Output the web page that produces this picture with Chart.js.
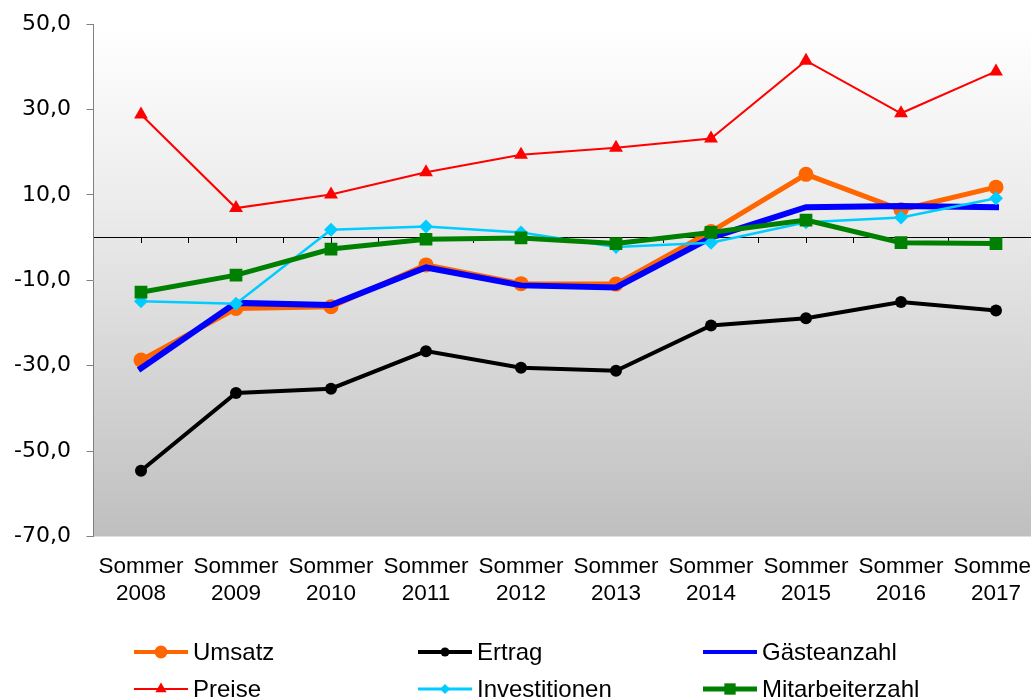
<!DOCTYPE html>
<html>
<head>
<meta charset="utf-8">
<script src="https://cdn.jsdelivr.net/npm/chart.js@4/dist/chart.umd.min.js"></script>
<style>
  html, body { margin: 0; padding: 0; background: #ffffff; overflow: hidden; }
  #wrap { position: relative; width: 1031px; height: 699px; overflow: hidden; }
  #wrap canvas { position: absolute; left: 0; top: 0; }
</style>
</head>
<body>
<div id="wrap"><canvas id="chart" width="1060" height="699"></canvas></div>
<script>
// Saison-Vergleich: Salden in Prozentpunkten, Sommer 2008 bis 2017
const years = ['2008', '2009', '2010', '2011', '2012', '2013', '2014', '2015', '2016', '2017'];
const categories = years.map(y => ['Sommer', y]);

const umsatz          = [-28.7, -16.6, -16.2, -6.4, -10.8, -10.9, 1.4, 14.8, 6.5, 11.8];
const ertrag          = [-54.6, -36.4, -35.4, -26.6, -30.5, -31.2, -20.6, -18.9, -15.1, -17.1];
const gaesteanzahl    = [-30.6, -15.3, -15.8, -7.0, -11.2, -11.7, 0.0, 7.1, 7.4, 7.1];
const preise          = [28.8, 6.9, 10.1, 15.3, 19.4, 21.0, 23.2, 41.4, 29.1, 38.9];
const investitionen   = [-14.9, -15.5, 1.8, 2.6, 1.2, -2.2, -1.2, 3.6, 4.7, 9.2];
const mitarbeiterzahl = [-12.8, -8.8, -2.7, -0.4, -0.1, -1.4, 1.2, 4.1, -1.2, -1.4];

const yTickValues = [-70, -50, -30, -10, 10, 30, 50];

const FONT = '"Liberation Sans", Arial, Helvetica, sans-serif';
const FONT_Y = '"DejaVu Sans", Verdana, sans-serif';

// marker shapes for the legend
function drawMarker(ctx, style, x, y, r, color) {
  ctx.save();
  ctx.fillStyle = color;
  ctx.beginPath();
  if (style === 'circle') {
    ctx.arc(x, y, r, 0, Math.PI * 2);
  } else if (style === 'triangle') {
    ctx.moveTo(x, y - r);
    ctx.lineTo(x + r * 0.866, y + r * 0.5);
    ctx.lineTo(x - r * 0.866, y + r * 0.5);
    ctx.closePath();
  } else if (style === 'rectRot') {
    ctx.moveTo(x, y - r);
    ctx.lineTo(x + r, y);
    ctx.lineTo(x, y + r);
    ctx.lineTo(x - r, y);
    ctx.closePath();
  } else if (style === 'rect') {
    const s = r * Math.SQRT1_2;
    ctx.rect(x - s, y - s, 2 * s, 2 * s);
  }
  ctx.fill();
  ctx.restore();
}

// plot area background: light gradient from white to grey
const backgroundPlugin = {
  id: 'plotBackground',
  beforeDraw(chart) {
    const { ctx, chartArea: a } = chart;
    const g = ctx.createLinearGradient(0, a.top, 0, a.bottom);
    g.addColorStop(0, '#ffffff');
    g.addColorStop(0.35, '#ececec');
    g.addColorStop(1, '#bfbfbf');
    ctx.save();
    ctx.fillStyle = g;
    ctx.fillRect(a.left, a.top, a.right - a.left, a.bottom - a.top);
    ctx.restore();
  }
};

// three-column legend below the axis labels
const legendGridPlugin = {
  id: 'legendGrid',
  afterDraw(chart) {
    const ctx = chart.ctx;
    const cols = [134, 418, 703];
    const rows = [652, 689];
    const lineLen = 54;
    ctx.save();
    ctx.font = '24px ' + FONT;
    ctx.textBaseline = 'middle';
    ctx.textAlign = 'left';
    chart.data.datasets.forEach((ds, i) => {
      const x = cols[i % 3];
      const y = rows[Math.floor(i / 3)];
      ctx.strokeStyle = ds.borderColor;
      ctx.lineWidth = ds.legendLineWidth;
      ctx.lineCap = 'butt';
      ctx.beginPath();
      ctx.moveTo(x, y);
      ctx.lineTo(x + lineLen, y);
      ctx.stroke();
      if (ds.pointRadius > 0) {
        drawMarker(ctx, ds.pointStyle, x + lineLen / 2, y, ds.legendMarkerRadius, ds.borderColor);
      }
      ctx.fillStyle = '#000000';
      ctx.fillText(ds.label, x + lineLen + 5, y + 1);
    });
    ctx.restore();
  }
};

const chart = new Chart(document.getElementById('chart'), {
  type: 'line',
  data: {
    labels: categories,
    datasets: [
      { label: 'Umsatz', data: umsatz, borderColor: '#FF6600', backgroundColor: '#FF6600',
        borderWidth: 5, pointStyle: 'circle', pointRadius: 7.5, pointBorderWidth: 0,
        pointBackgroundColor: '#FF6600', order: 6, legendLineWidth: 4, legendMarkerRadius: 6.5 },
      { label: 'Ertrag', data: ertrag, borderColor: '#000000', backgroundColor: '#000000',
        borderWidth: 4, pointStyle: 'circle', pointRadius: 6, pointBorderWidth: 0,
        pointBackgroundColor: '#000000', order: 5, legendLineWidth: 4, legendMarkerRadius: 4.5 },
      { label: 'Gästeanzahl', data: gaesteanzahl, borderColor: '#0000FF', backgroundColor: '#0000FF',
        borderWidth: 6, pointRadius: 0, borderCapStyle: 'square', order: 4,
        legendLineWidth: 4, legendMarkerRadius: 0 },
      { label: 'Preise', data: preise, borderColor: '#FF0000', backgroundColor: '#FF0000',
        borderWidth: 2, pointStyle: 'triangle', pointRadius: 8, pointBorderWidth: 0,
        pointBackgroundColor: '#FF0000', order: 3, legendLineWidth: 2, legendMarkerRadius: 6.5 },
      { label: 'Investitionen', data: investitionen, borderColor: '#00CCFF', backgroundColor: '#00CCFF',
        borderWidth: 2.5, pointStyle: 'rectRot', pointRadius: 7, pointBorderWidth: 0,
        pointBackgroundColor: '#00CCFF', order: 2, legendLineWidth: 3, legendMarkerRadius: 5 },
      { label: 'Mitarbeiterzahl', data: mitarbeiterzahl, borderColor: '#008000', backgroundColor: '#008000',
        borderWidth: 5, pointStyle: 'rect', pointRadius: 9, pointBorderWidth: 0,
        pointBackgroundColor: '#008000', order: 1, legendLineWidth: 5, legendMarkerRadius: 8 }
    ]
  },
  options: {
    responsive: false,
    animation: false,
    devicePixelRatio: 1,
    tension: 0,
    layout: { padding: { top: 24, right: 16.5, bottom: 92.5, left: 0 } },
    plugins: { legend: { display: false }, tooltip: { enabled: false } },
    scales: {
      x: {
        type: 'category',
        offset: true,
        grid: { display: false },
        border: { display: false },
        ticks: {
          color: '#000000', font: { family: FONT, size: 22.5, lineHeight: 1.2 }, padding: 9,
          maxRotation: 0, autoSkip: false
        },
        afterFit(scale) { scale.height = 70; scale.paddingLeft = 0; scale.paddingRight = 0; }
      },
      xZero: {
        type: 'linear',
        axis: 'x',
        position: { y: 0 },
        min: -0.5,
        max: categories.length - 0.5,
        afterBuildTicks(scale) {
          const t = [];
          for (let v = -0.5; v <= categories.length - 0.5; v += 0.5) t.push({ value: v });
          scale.ticks = t;
        },
        grid: { drawOnChartArea: false, tickLength: 5, color: '#000000', lineWidth: 1 },
        border: { color: '#000000', width: 1 },
        ticks: { display: false }
      },
      y: {
        min: -70,
        max: 50,
        afterBuildTicks(scale) { scale.ticks = yTickValues.map(v => ({ value: v })); },
        grid: { drawOnChartArea: false, tickLength: 7, color: '#808080', lineWidth: 1 },
        border: { color: '#808080', width: 1 },
        ticks: {
          color: '#000000', font: { family: FONT_Y, size: 22 }, padding: 15.5,
          callback: v => v.toFixed(1).replace('.', ',')
        },
        afterFit(scale) { scale.width = 93.5; scale.paddingTop = 0; scale.paddingBottom = 0; }
      }
    }
  },
  plugins: [backgroundPlugin, legendGridPlugin]
});
</script>
</body>
</html>
